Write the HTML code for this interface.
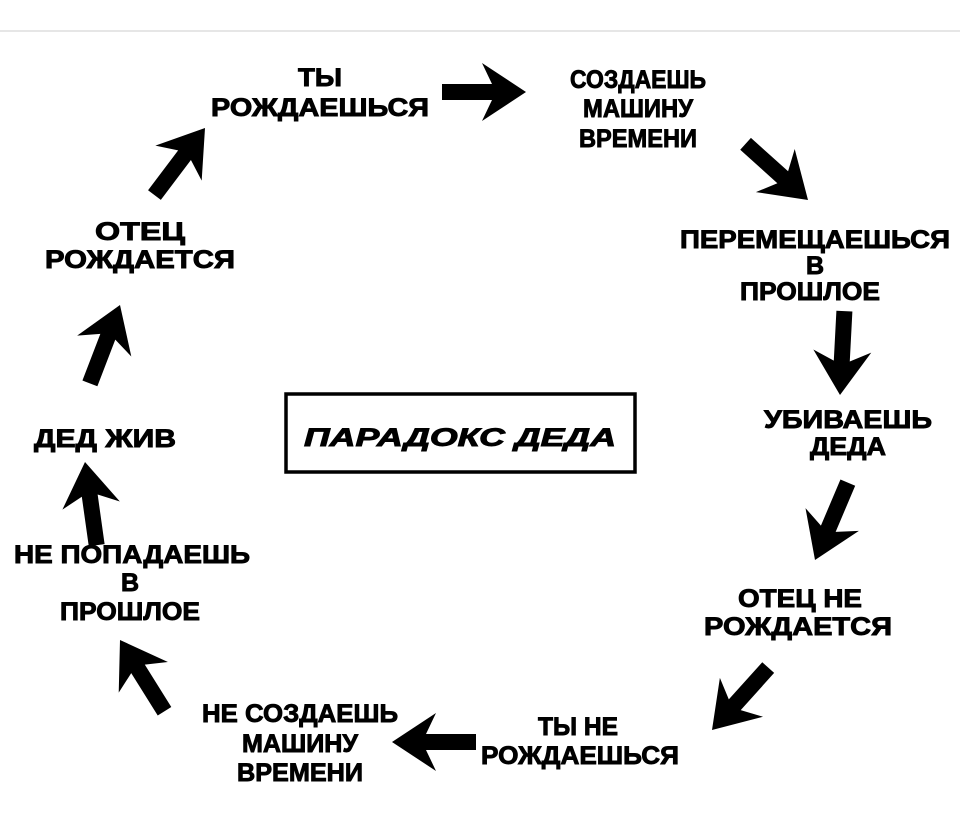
<!DOCTYPE html>
<html><head><meta charset="utf-8"><style>
html,body{margin:0;padding:0;background:#fff;}
svg{display:block;}
text{font-family:"Liberation Sans","DejaVu Sans",sans-serif;font-weight:bold;fill:#000;stroke:#000;stroke-width:0.9;font-size:25px;text-anchor:middle;}
</style></head><body>
<svg width="960" height="818" viewBox="0 0 960 818" xmlns="http://www.w3.org/2000/svg">
<rect width="960" height="818" fill="#fff"/>
<line x1="0" y1="31" x2="960" y2="31" stroke="#e6e6e6" stroke-width="2"/>
<defs>
<polygon id="ar" points="0,0 -44,-29 -34,-8 -84,-8 -84,8 -34,8 -44,29" fill="#000"/>
</defs>
<use href="#ar" transform="translate(526,92) rotate(0)"/>
<use href="#ar" transform="translate(808,200) rotate(42)"/>
<use href="#ar" transform="translate(840,395) rotate(93)"/>
<use href="#ar" transform="translate(815,560) rotate(113)"/>
<use href="#ar" transform="translate(712,730) rotate(132)"/>
<use href="#ar" transform="translate(392,742) rotate(180)"/>
<use href="#ar" transform="translate(120,640) rotate(238)"/>
<use href="#ar" transform="translate(85,462) rotate(262)"/>
<use href="#ar" transform="translate(120,305) rotate(291)"/>
<use href="#ar" transform="translate(205,128) rotate(307)"/>

<text x="320" y="86" textLength="44" lengthAdjust="spacingAndGlyphs">ТЫ</text>
<text x="320" y="116" textLength="218" lengthAdjust="spacingAndGlyphs">РОЖДАЕШЬСЯ</text>

<text x="638" y="88" textLength="136" lengthAdjust="spacingAndGlyphs">СОЗДАЕШЬ</text>
<text x="638" y="117" textLength="110" lengthAdjust="spacingAndGlyphs">МАШИНУ</text>
<text x="638" y="147" textLength="118" lengthAdjust="spacingAndGlyphs">ВРЕМЕНИ</text>

<text x="815" y="248" textLength="270" lengthAdjust="spacingAndGlyphs">ПЕРЕМЕЩАЕШЬСЯ</text>
<text x="815" y="274">В</text>
<text x="810" y="300" textLength="140" lengthAdjust="spacingAndGlyphs">ПРОШЛОЕ</text>

<text x="848" y="428" textLength="168" lengthAdjust="spacingAndGlyphs">УБИВАЕШЬ</text>
<text x="848" y="455" textLength="76" lengthAdjust="spacingAndGlyphs">ДЕДА</text>

<text x="800" y="607" textLength="124" lengthAdjust="spacingAndGlyphs">ОТЕЦ НЕ</text>
<text x="798" y="635" textLength="188" lengthAdjust="spacingAndGlyphs">РОЖДАЕТСЯ</text>

<text x="578" y="735" textLength="80" lengthAdjust="spacingAndGlyphs">ТЫ НЕ</text>
<text x="580" y="764" textLength="198" lengthAdjust="spacingAndGlyphs">РОЖДАЕШЬСЯ</text>

<text x="300" y="722" textLength="196" lengthAdjust="spacingAndGlyphs">НЕ СОЗДАЕШЬ</text>
<text x="300" y="752" textLength="116" lengthAdjust="spacingAndGlyphs">МАШИНУ</text>
<text x="300" y="781" textLength="126" lengthAdjust="spacingAndGlyphs">ВРЕМЕНИ</text>

<text x="132" y="563" textLength="236" lengthAdjust="spacingAndGlyphs">НЕ ПОПАДАЕШЬ</text>
<text x="130" y="591">В</text>
<text x="130" y="620" textLength="140" lengthAdjust="spacingAndGlyphs">ПРОШЛОЕ</text>

<text x="105" y="447" textLength="142" lengthAdjust="spacingAndGlyphs">ДЕД ЖИВ</text>

<text x="140" y="240" textLength="90" lengthAdjust="spacingAndGlyphs">ОТЕЦ</text>
<text x="140" y="268" textLength="190" lengthAdjust="spacingAndGlyphs">РОЖДАЕТСЯ</text>

<rect x="286" y="394" width="349" height="78" fill="none" stroke="#000" stroke-width="3.5"/>
<text x="460" y="446" font-size="34" font-style="italic" textLength="312" lengthAdjust="spacingAndGlyphs">ПАРАДОКС ДЕДА</text>
</svg>
</body></html>
